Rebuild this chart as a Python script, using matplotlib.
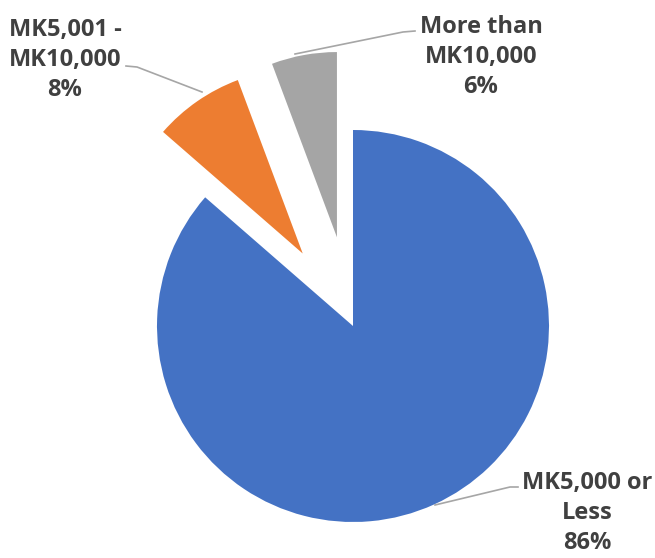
import matplotlib.pyplot as plt

# share of respondents by amount band
categories = ["MK5,000 or\nLess", "MK5,001 -\nMK10,000", "More than\nMK10,000"]
shares = [86.4, 7.9, 5.7]
pct_labels = ["86%", "8%", "6%"]
colors = ["#4472C4", "#ED7D31", "#A5A5A5"]

W, H = 655, 558
CX, CY, R = 353, 326, 196  # pie centre and radius in pixels


def to_data(px, py):
    return (px - CX) / R, (CY - py) / R


fig = plt.figure(figsize=(W / 100, H / 100), dpi=100)
ax = fig.add_axes([0, 0, 1, 1])

wedges, _ = ax.pie(shares, colors=colors, startangle=90, counterclock=False,
                   explode=[0, 0.45, 0.46], wedgeprops=dict(linewidth=0))
for w in wedges[1:]:
    w.set_radius(0.945)

ax.set_xlim(-CX / R, (W - CX) / R)
ax.set_ylim(-(H - CY) / R, CY / R)
ax.set_aspect("equal")
ax.axis("off")

# label positions (pixels) and leader lines
label_pos = [(587, 513), (65, 60), (481, 57)]
leaders = [
    [(518, 487), (510, 487), (435, 505)],
    [(126, 66), (137, 67), (202, 92)],
    [(415, 31), (403, 32), (295, 54)],
]

for cat, pct, pos, line in zip(categories, pct_labels, label_pos, leaders):
    x, y = to_data(*pos)
    ax.text(x, y, f"{cat}\n{pct}", ha="center", va="center", fontsize=17,
            fontweight="bold", family="Open Sans", color="#404040",
            linespacing=1.35)
    pts = [to_data(*p) for p in line]
    ax.plot([p[0] for p in pts], [p[1] for p in pts], color="#A6A6A6", lw=1.2)

fig.savefig("out.png", dpi=100)
